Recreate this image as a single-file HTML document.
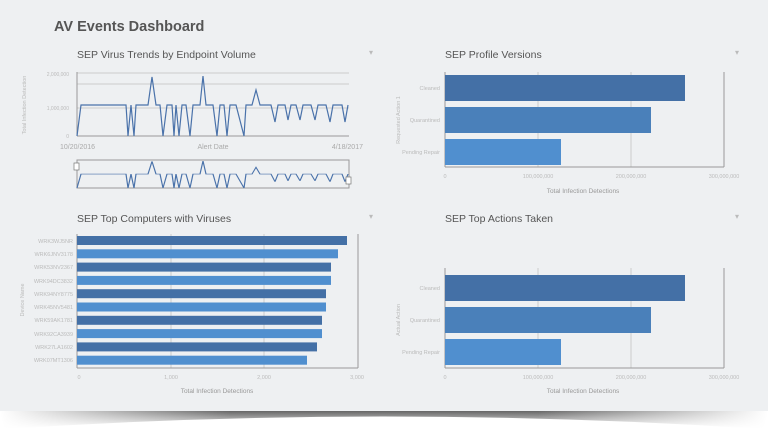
<!DOCTYPE html>
<html><head><style>
body{margin:0;background:#fff;}
svg{display:block;font-family:"Liberation Sans",sans-serif;}
</style></head><body>
<svg width="768" height="429" viewBox="0 0 768 429">
<defs>
<linearGradient id="sv" x1="0" y1="0" x2="0" y2="1"><stop offset="0" stop-color="#666"/><stop offset="1" stop-color="#fff"/></linearGradient>
<linearGradient id="sh" x1="0" x2="1"><stop offset="0" stop-color="#fff"/><stop offset="0.3" stop-color="#fff" stop-opacity="0"/><stop offset="0.7" stop-color="#fff" stop-opacity="0"/><stop offset="1" stop-color="#fff"/></linearGradient>
</defs>
<rect width="768" height="411" fill="#eef0f2"/>
<rect x="0" y="411" width="768" height="18" fill="#fff"/>
<path d="M5 429 Q384 404 763 429 L768 411 L0 411 Z" fill="url(#sv)"/>
<rect x="0" y="411" width="768" height="18" fill="url(#sh)"/>
<text x="54" y="31" font-size="14.5" font-weight="bold" fill="#555">AV Events Dashboard</text>
<g font-size="10.5" fill="#555">
<text x="77" y="58">SEP Virus Trends by Endpoint Volume</text>
<text x="445" y="58">SEP Profile Versions</text>
<text x="77" y="222">SEP Top Computers with Viruses</text>
<text x="445" y="222">SEP Top Actions Taken</text>
</g>
<g font-size="8" fill="#bbb"><text x="369" y="55">▾</text><text x="735" y="55">▾</text><text x="369" y="219">▾</text><text x="735" y="219">▾</text></g>
<!-- chart 1 -->
<g stroke="#ccc" stroke-width="1">
<line x1="77" y1="73" x2="349" y2="73"/><line x1="77" y1="84" x2="349" y2="84"/><line x1="77" y1="108" x2="349" y2="108"/>
</g>
<line x1="77" y1="136" x2="349" y2="136" stroke="#999"/><line x1="77" y1="72" x2="77" y2="136" stroke="#999"/>
<g font-size="5" fill="#bbb" text-anchor="end"><text x="69" y="76">2,000,000</text><text x="69" y="110">1,000,000</text><text x="69" y="138">0</text></g>
<text transform="translate(26,105) rotate(-90)" font-size="5.5" fill="#bbb" text-anchor="middle">Total Infection Detection</text>
<g font-size="7" fill="#aaa"><text x="60" y="149">10/20/2016</text><text x="213" y="149" text-anchor="middle">Alert Date</text><text x="363" y="149" text-anchor="end">4/18/2017</text></g>
<polyline id="ln" fill="none" stroke="#4a72aa" stroke-width="1.2" points="77,136 81,105 126,105 128,136 131,105 134,136 136,105 148,105 152,77 156,105 160,105 163,136 167,105 172,105 174,136 176,105 179,136 182,105 186,105 190,136 193,105 200,105 203,76 206,105 213,105 217,136 220,105 224,105 227,136 230,105 236,105 244,136 246,105 252,105 256,90 260,105 271,105 275,122 278,105 285,105 288,120 291,105 296,105 300,120 303,105 311,105 315,120 318,105 326,105 330,122 333,105 342,105 345,122 348,105"/>
<rect x="77" y="160" width="272" height="28" fill="none" stroke="#999"/>
<use href="#ln" transform="translate(0,188) scale(1,0.45) translate(0,-136)"/>
<rect x="74" y="163" width="5" height="7" fill="#fff" stroke="#777" stroke-width="0.7"/>
<rect x="346" y="177" width="5" height="7" fill="#fff" stroke="#777" stroke-width="0.7"/>
<!-- chart 2 -->
<g stroke="#ccc"><line x1="538" y1="72" x2="538" y2="167"/><line x1="631" y1="72" x2="631" y2="167"/><line x1="724" y1="72" x2="724" y2="167" stroke="#999"/></g>
<line x1="445" y1="72" x2="445" y2="167" stroke="#999"/><line x1="445" y1="167" x2="724" y2="167" stroke="#999"/>
<rect x="445" y="75" width="240" height="26" fill="#4470a6"/>
<rect x="445" y="107" width="206" height="26" fill="#4a80ba"/>
<rect x="445" y="139" width="116" height="26" fill="#508fcf"/>
<g font-size="5.5" fill="#bbb" text-anchor="end"><text x="440" y="90">Cleaned</text><text x="440" y="122">Quarantined</text><text x="440" y="154">Pending Repair</text></g>
<g font-size="5.5" fill="#bbb" text-anchor="middle"><text x="445" y="178">0</text><text x="538" y="178">100,000,000</text><text x="631" y="178">200,000,000</text><text x="724" y="178">300,000,000</text></g>
<text x="583" y="193" font-size="6.5" fill="#999" text-anchor="middle">Total Infection Detections</text>
<text transform="translate(400,120) rotate(-90)" font-size="5.5" fill="#bbb" text-anchor="middle">Requested Action 1</text>
<!-- chart 4 -->
<g stroke="#ccc"><line x1="538" y1="268" x2="538" y2="368"/><line x1="631" y1="268" x2="631" y2="368"/><line x1="724" y1="268" x2="724" y2="368" stroke="#999"/></g>
<line x1="445" y1="268" x2="445" y2="368" stroke="#999"/><line x1="445" y1="368" x2="724" y2="368" stroke="#999"/>
<rect x="445" y="275" width="240" height="26" fill="#4470a6"/>
<rect x="445" y="307" width="206" height="26" fill="#4a80ba"/>
<rect x="445" y="339" width="116" height="26" fill="#508fcf"/>
<g font-size="5.5" fill="#bbb" text-anchor="end"><text x="440" y="290">Cleaned</text><text x="440" y="322">Quarantined</text><text x="440" y="354">Pending Repair</text></g>
<g font-size="5.5" fill="#bbb" text-anchor="middle"><text x="445" y="379">0</text><text x="538" y="379">100,000,000</text><text x="631" y="379">200,000,000</text><text x="724" y="379">300,000,000</text></g>
<text x="583" y="393" font-size="6.5" fill="#999" text-anchor="middle">Total Infection Detections</text>
<text transform="translate(400,320) rotate(-90)" font-size="5.5" fill="#bbb" text-anchor="middle">Actual Action</text>
<!-- chart 3 -->
<g stroke="#ccc"><line x1="171" y1="234" x2="171" y2="368"/><line x1="264" y1="234" x2="264" y2="368"/><line x1="358" y1="234" x2="358" y2="368" stroke="#999"/></g>
<line x1="77" y1="234" x2="77" y2="368" stroke="#999"/><line x1="77" y1="368" x2="358" y2="368" stroke="#999"/>
<g>
<rect x="77" y="236" width="270" height="9" fill="#4470a6"/>
<rect x="77" y="249.3" width="261" height="9" fill="#508fcf"/>
<rect x="77" y="262.6" width="254" height="9" fill="#4470a6"/>
<rect x="77" y="275.9" width="254" height="9" fill="#508fcf"/>
<rect x="77" y="289.2" width="249" height="9" fill="#4470a6"/>
<rect x="77" y="302.5" width="249" height="9" fill="#508fcf"/>
<rect x="77" y="315.8" width="245" height="9" fill="#4470a6"/>
<rect x="77" y="329.1" width="245" height="9" fill="#508fcf"/>
<rect x="77" y="342.4" width="240" height="9" fill="#4470a6"/>
<rect x="77" y="355.7" width="230" height="9" fill="#508fcf"/>
</g>
<g font-size="5.5" fill="#bbb" text-anchor="end">
<text x="73" y="243">WRK3WJ5NR</text><text x="73" y="256">WRK6JNV3178</text><text x="73" y="269">WRK53NV2367</text><text x="73" y="283">WRK94DC3832</text><text x="73" y="296">WRK94NY8775</text><text x="73" y="309">WRK45NV5481</text><text x="73" y="322">WRK59AK1781</text><text x="73" y="336">WRK92CA3939</text><text x="73" y="349">WRK27LA1602</text><text x="73" y="362">WRK07MT1306</text>
</g>
<g font-size="5.5" fill="#bbb" text-anchor="middle"><text x="79" y="379">0</text><text x="171" y="379">1,000</text><text x="264" y="379">2,000</text><text x="357" y="379">3,000</text></g>
<text x="217" y="393" font-size="6.5" fill="#999" text-anchor="middle">Total Infection Detections</text>
<text transform="translate(24,300) rotate(-90)" font-size="5.5" fill="#bbb" text-anchor="middle">Device Name</text>
</svg>
</body></html>
